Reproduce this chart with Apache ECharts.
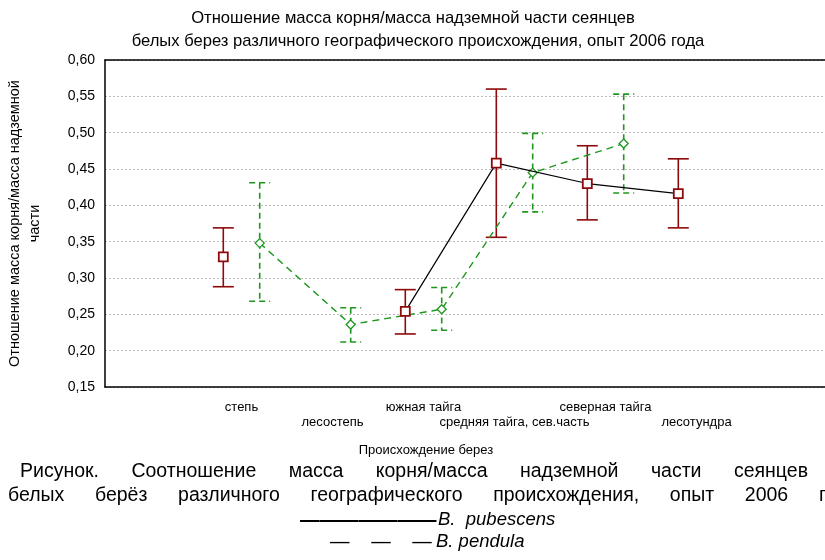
<!DOCTYPE html>
<html><head><meta charset="utf-8">
<script src="https://cdn.jsdelivr.net/npm/echarts@6/dist/echarts.min.js"></script>
<style>html,body{margin:0;padding:0;background:#fff}#c{width:825px;height:560px}</style>
</head><body><div id="c"></div>
<script>
// ---- data ----
const categories = ['степь', 'лесостепь', 'южная тайга', 'средняя тайга, сев.часть', 'северная тайга', 'лесотундра'];
const pubescensMean = [0.329, null, 0.254, 0.458, 0.430, 0.416];
const pubescensLow  = [0.288, null, 0.223, 0.356, 0.380, 0.369];
const pubescensHigh = [0.369, null, 0.284, 0.560, 0.482, 0.464];
const pendulaMean = [0.348, 0.236, 0.257, 0.445, 0.485, null];
const pendulaLow  = [0.268, 0.212, 0.228, 0.391, 0.417, null];
const pendulaHigh = [0.431, 0.259, 0.287, 0.499, 0.553, null];
const yMin = 0.15, yMax = 0.60, yStep = 0.05;
const chartTitle = ['Отношение масса корня/масса надземной части сеянцев', 'белых берез различного географического происхождения, опыт 2006 года'];
const yName = 'Отношение масса корня/масса надземной\nчасти';
const xName = 'Происхождение берез';
const captionLines = ['Рисунок. Соотношение масса корня/масса надземной части сеянцев', 'белых берёз различного географического происхождения, опыт 2006 г'];
const legendNames = ['B.  pubescens', 'B. pendula'];

// ---- layout ----
const FF = '"Liberation Sans", Arial, sans-serif';
const RED = '#8e0a0a', GREEN = '#1f961f';
const OFF = 0.2; // horizontal offset of the two species within a category
const axisCats = [''].concat(categories, ['']);

function pts(vals, off) {
  return vals.map((v, i) => [i + 1 + off, v == null ? '-' : v]);
}
function bars(lo, hi, off) {
  const out = [];
  lo.forEach((v, i) => { if (v != null) out.push([i + 1 + off, v, hi[i]]); });
  return out;
}
function errRender(color, dash) {
  return function (params, api) {
    const x = api.value(0);
    const pH = api.coord([x, api.value(2)]);
    const pL = api.coord([x, api.value(1)]);
    const hw = 10.5;
    const st = { stroke: color, lineWidth: 1.6, lineDash: dash, fill: null };
    return { type: 'group', children: [
      { type: 'line', shape: { x1: pH[0], y1: pH[1], x2: pL[0], y2: pL[1] }, style: st },
      { type: 'line', shape: { x1: pH[0] - hw, y1: pH[1], x2: pH[0] + hw, y2: pH[1] }, style: st },
      { type: 'line', shape: { x1: pL[0] - hw, y1: pL[1], x2: pL[0] + hw, y2: pL[1] }, style: st }
    ]};
  };
}

// justified caption words
const mctx = document.createElement('canvas').getContext('2d');
function justify(text, left, right, y, size) {
  mctx.font = size + 'px ' + FF;
  const words = text.split(' ');
  const w = words.map(s => mctx.measureText(s).width);
  const total = w.reduce((a, b) => a + b, 0);
  const gap = (right - left - total) / (words.length - 1);
  let x = left;
  return words.map((s, i) => {
    const el = { type: 'text', x: x, y: y, style: { text: s, fontSize: size, fontFamily: FF, fill: '#000', align: 'left', verticalAlign: 'middle' } };
    x += w[i] + gap;
    return el;
  });
}

const graphics = [
  { type: 'text', x: 413, y: 18, style: { text: chartTitle[0], fontSize: 16.6, fontFamily: FF, fill: '#000', align: 'center', verticalAlign: 'middle' } },
  { type: 'text', x: 418, y: 41, style: { text: chartTitle[1], fontSize: 16.6, fontFamily: FF, fill: '#000', align: 'center', verticalAlign: 'middle' } },
  { type: 'text', x: 426, y: 450, style: { text: xName, fontSize: 13, fontFamily: FF, fill: '#000', align: 'center', verticalAlign: 'middle' } },
  { type: 'text', x: 300, y: 521, style: { text: '———————', fontSize: 19.5, fontWeight: 'bold', fontFamily: FF, fill: '#000', align: 'left', verticalAlign: 'middle' } },
  { type: 'text', x: 438, y: 520, style: { text: legendNames[0], fontSize: 18.5, fontStyle: 'italic', fontFamily: FF, fill: '#000', align: 'left', verticalAlign: 'middle' } },
  { type: 'text', x: 330, y: 543, style: { text: '—    —    —', fontSize: 19.5, fontFamily: FF, fill: '#000', align: 'left', verticalAlign: 'middle' } },
  { type: 'text', x: 436, y: 542, style: { text: legendNames[1], fontSize: 18.5, fontStyle: 'italic', fontFamily: FF, fill: '#000', align: 'left', verticalAlign: 'middle' } }
].concat(justify(captionLines[0], 20, 808, 472, 19.5), justify(captionLines[1], 8, 826, 496, 19.5));

const chart = echarts.init(document.getElementById('c'), null, { renderer: 'canvas' });
chart.setOption({
  animation: false,
  backgroundColor: '#fff',
  textStyle: { fontFamily: FF },
  grid: { left: 105, top: 60, width: 728, height: 327, containLabel: false, outerBoundsMode: 'none' },
  xAxis: [
    { type: 'category', position: 'bottom', data: axisCats, boundaryGap: true,
      axisLine: { onZero: false, lineStyle: { color: '#000', width: 1.5 } },
      axisTick: { alignWithLabel: true, inside: true, length: 4, lineStyle: { color: '#000' } },
      axisLabel: { interval: 0, color: '#000', fontSize: 13, lineHeight: 15, margin: 13, hideOverlap: false,
        formatter: (v, i) => (i % 2 === 0 && v) ? '\n' + v : v },
      splitLine: { show: false } },
    { type: 'category', position: 'top', data: axisCats, boundaryGap: true,
      axisLine: { onZero: false, lineStyle: { color: '#000', width: 1.5 } },
      axisTick: { alignWithLabel: true, inside: true, length: 4, lineStyle: { color: '#000' } },
      axisLabel: { show: false }, splitLine: { show: false } },
    { type: 'value', min: -0.5, max: axisCats.length - 0.5, show: false, splitLine: { show: false } }
  ],
  yAxis: {
    type: 'value', min: yMin, max: yMax, interval: yStep,
    name: yName, nameLocation: 'middle', nameRotate: 90, nameGap: 60,
    nameTextStyle: { color: '#000', fontSize: 14.5, lineHeight: 20 },
    axisLine: { show: true, onZero: false, lineStyle: { color: '#000', width: 1.5 } },
    axisTick: { show: false },
    axisLabel: { color: '#000', fontSize: 14, margin: 10, formatter: v => v.toFixed(2).replace('.', ',') },
    splitLine: { show: true, lineStyle: { color: '#bdbdbd', type: [2, 2], width: 1 } }
  },
  series: [
    { type: 'custom', name: 'pubescens err', xAxisIndex: 2, z: 2, renderItem: errRender(RED, null), data: bars(pubescensLow, pubescensHigh, -OFF) },
    { type: 'custom', name: 'pendula err', xAxisIndex: 2, z: 2, renderItem: errRender(GREEN, [6, 4]), data: bars(pendulaLow, pendulaHigh, OFF) },
    { type: 'line', name: 'B. pendula', xAxisIndex: 2, z: 3, data: pts(pendulaMean, OFF),
      lineStyle: { color: GREEN, width: 1.4, type: [7, 5] },
      symbol: 'diamond', symbolSize: 9, showAllSymbol: true,
      itemStyle: { color: '#fff', borderColor: GREEN, borderWidth: 1.3 } },
    { type: 'line', name: 'B. pubescens', xAxisIndex: 2, z: 4, data: pts(pubescensMean, -OFF),
      lineStyle: { color: '#000', width: 1.2 },
      symbol: 'rect', symbolSize: 9, showAllSymbol: true,
      itemStyle: { color: '#fff', borderColor: RED, borderWidth: 1.8 } }
  ],
  graphic: graphics
});
</script></body></html>
